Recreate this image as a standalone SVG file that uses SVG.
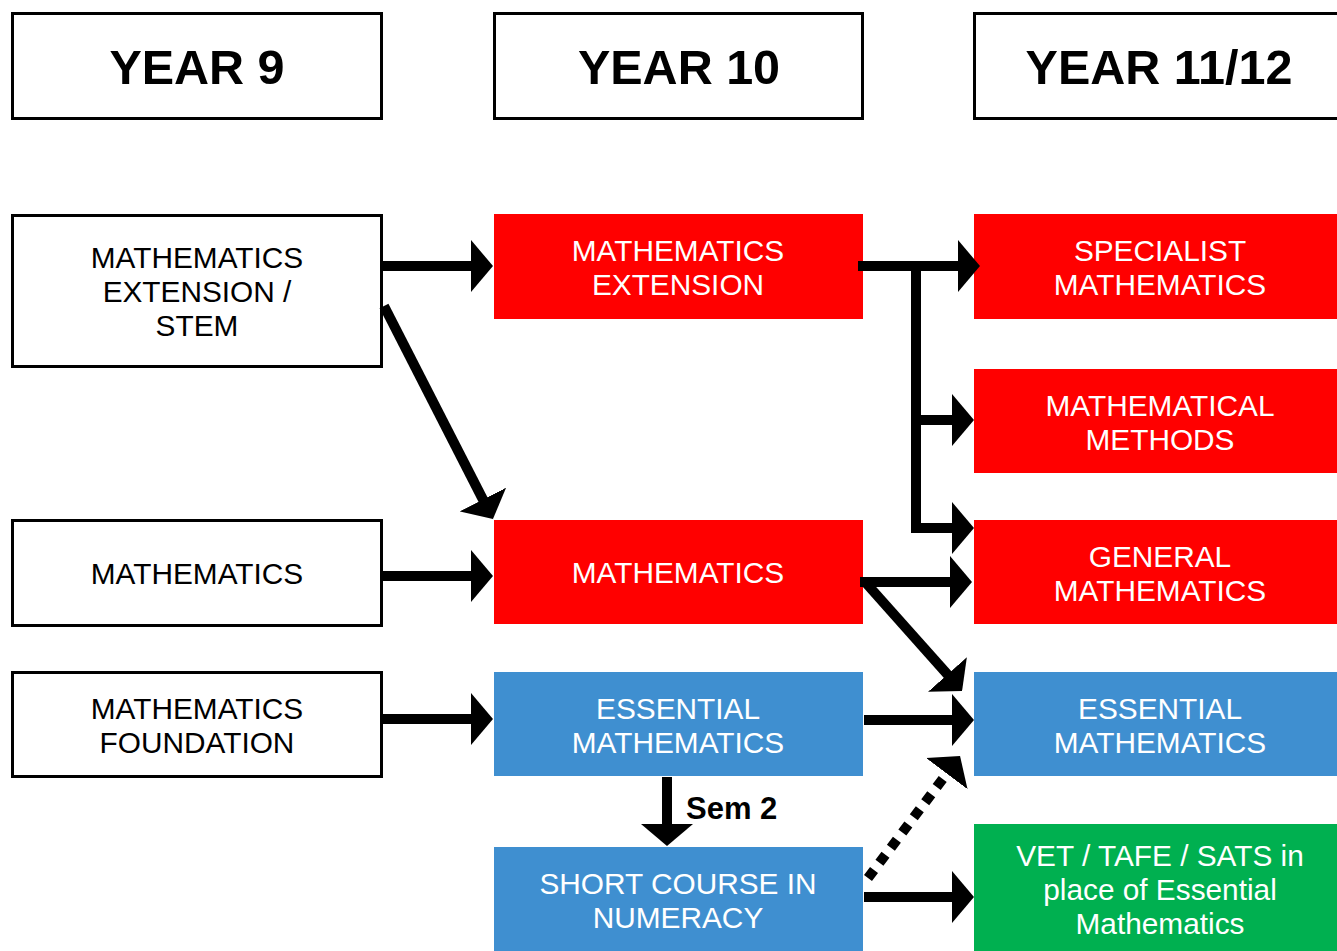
<svg xmlns="http://www.w3.org/2000/svg" width="1337" height="951" viewBox="0 0 1337 951">
<style>
.hdr{fill:#fff;stroke:#000;stroke-width:3}
.wbox{fill:#fff;stroke:#000;stroke-width:3}
.red{fill:#ff0000}
.blue{fill:#3f8fd0}
.green{fill:#00b050}
.ht{font-family:"Liberation Sans",Arial,sans-serif;font-weight:bold;font-size:48.5px;fill:#000;text-anchor:middle}
.bt{font-family:"Liberation Sans",Arial,sans-serif;font-size:29.8px;fill:#000;text-anchor:middle}
.wt{font-family:"Liberation Sans",Arial,sans-serif;font-size:29.8px;fill:#fff;text-anchor:middle}
.lbl{font-family:"Liberation Sans",Arial,sans-serif;font-weight:bold;font-size:31px;fill:#000}
.ar{stroke:#000;stroke-width:10;fill:none;marker-end:url(#head)}
.dot{stroke-dasharray:10 9}
</style>
<defs>
<marker id="head" markerUnits="userSpaceOnUse" viewBox="0 0 22 52" refX="1" refY="26" markerWidth="22" markerHeight="52" orient="auto">
<path d="M0,0 L22,26 L0,52 Z" fill="#000"/>
</marker>
</defs>

<g id="hdr-y9"><rect class="hdr" x="12.5" y="13.5" width="369" height="105"/><text class="ht" x="197" y="84">YEAR 9</text></g>
<g id="hdr-y10"><rect class="hdr" x="494.5" y="13.5" width="368" height="105"/><text class="ht" x="679" y="84">YEAR 10</text></g>
<g id="hdr-y1112"><rect class="hdr" x="974.5" y="13.5" width="371" height="105"/><text class="ht" x="1159" y="84">YEAR 11/12</text></g>

<g id="y9-ext"><rect class="wbox" x="12.5" y="215.5" width="369" height="151"/><text class="bt" x="197" y="268">MATHEMATICS</text><text class="bt" x="197" y="302">EXTENSION /</text><text class="bt" x="197" y="336">STEM</text></g>
<g id="y9-math"><rect class="wbox" x="12.5" y="520.5" width="369" height="105"/><text class="bt" x="197" y="584">MATHEMATICS</text></g>
<g id="y9-found"><rect class="wbox" x="12.5" y="672.5" width="369" height="104"/><text class="bt" x="197" y="719">MATHEMATICS</text><text class="bt" x="197" y="753">FOUNDATION</text></g>

<g id="y10-ext"><rect class="red" x="494" y="214" width="369" height="105"/><text class="wt" x="678" y="261">MATHEMATICS</text><text class="wt" x="678" y="295">EXTENSION</text></g>
<g id="y10-math"><rect class="red" x="494" y="520" width="369" height="104"/><text class="wt" x="678" y="583">MATHEMATICS</text></g>
<g id="y10-ess"><rect class="blue" x="494" y="672" width="369" height="104"/><text class="wt" x="678" y="719">ESSENTIAL</text><text class="wt" x="678" y="753">MATHEMATICS</text></g>
<g id="y10-short"><rect class="blue" x="494" y="847" width="369" height="104"/><text class="wt" x="678" y="894">SHORT COURSE IN</text><text class="wt" x="678" y="928">NUMERACY</text></g>

<g id="y11-spec"><rect class="red" x="974" y="214" width="371" height="105"/><text class="wt" x="1160" y="261">SPECIALIST</text><text class="wt" x="1160" y="295">MATHEMATICS</text></g>
<g id="y11-meth"><rect class="red" x="974" y="369" width="371" height="104"/><text class="wt" x="1160" y="416">MATHEMATICAL</text><text class="wt" x="1160" y="450">METHODS</text></g>
<g id="y11-gen"><rect class="red" x="974" y="520" width="371" height="104"/><text class="wt" x="1160" y="567">GENERAL</text><text class="wt" x="1160" y="601">MATHEMATICS</text></g>
<g id="y11-ess"><rect class="blue" x="974" y="672" width="371" height="104"/><text class="wt" x="1160" y="719">ESSENTIAL</text><text class="wt" x="1160" y="753">MATHEMATICS</text></g>
<g id="y11-vet"><rect class="green" x="974" y="824" width="371" height="127"/><text class="wt" x="1160" y="866">VET / TAFE / SATS in</text><text class="wt" x="1160" y="900">place of Essential</text><text class="wt" x="1160" y="934">Mathematics</text></g>

<g id="connectors">
<line class="ar" x1="383" y1="266" x2="472" y2="266"/>
<line class="ar" x1="384" y1="306" x2="483.4" y2="500.4"/>
<line class="ar" x1="383" y1="576" x2="472" y2="576"/>
<line class="ar" x1="383" y1="719" x2="472" y2="719"/>
<line class="ar" x1="858" y1="266" x2="959" y2="266"/>
<line x1="916" y1="261" x2="916" y2="533" stroke="#000" stroke-width="10"/>
<line class="ar" x1="911" y1="420" x2="953" y2="420"/>
<line class="ar" x1="911" y1="528" x2="953" y2="528"/>
<line class="ar" x1="860" y1="582" x2="951" y2="582"/>
<line class="ar" x1="866" y1="583" x2="948.1" y2="675.2"/>
<line class="ar" x1="864" y1="720" x2="953" y2="720"/>
<line class="ar" x1="667" y1="777" x2="667" y2="825"/>
<line class="ar dot" x1="868" y1="878" x2="947.4" y2="772.8"/>
<line class="ar" x1="864" y1="897" x2="953" y2="897"/>
<text class="lbl" x="686" y="819">Sem 2</text>
</g>
</svg>
